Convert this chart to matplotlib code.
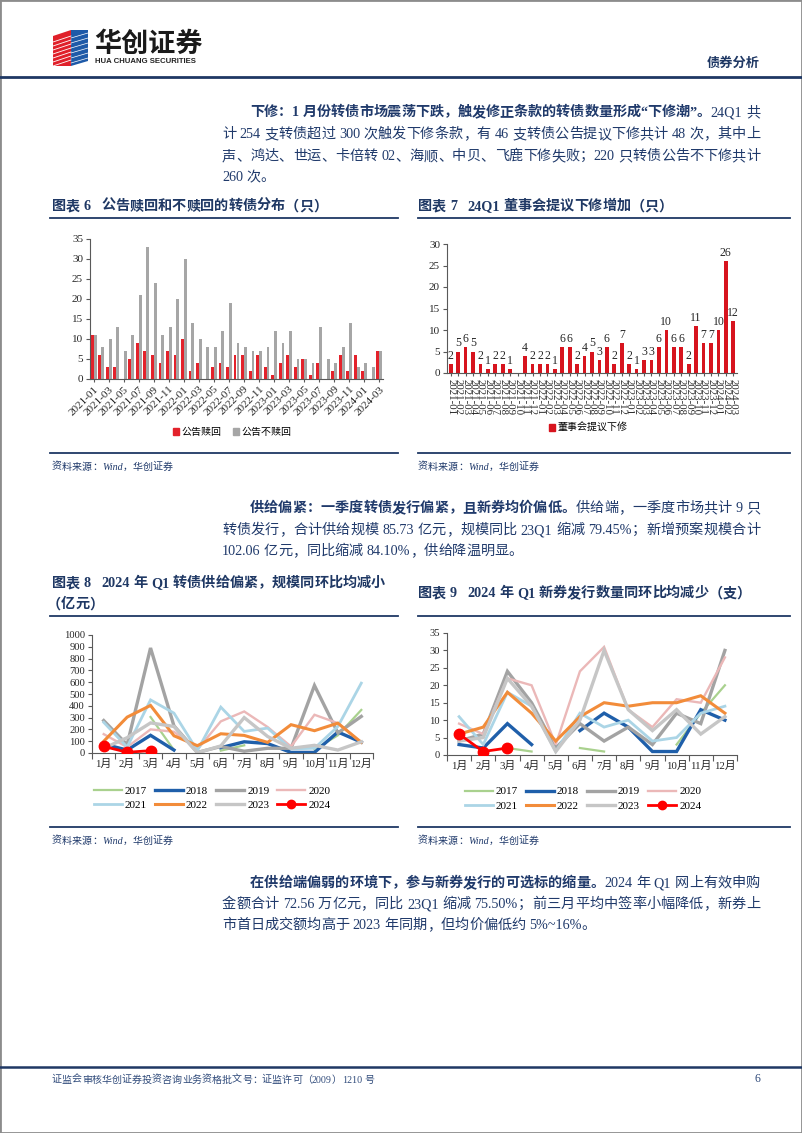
import numpy as np
import matplotlib
matplotlib.use('Agg')
import matplotlib.pyplot as plt
from matplotlib.patches import Rectangle, Polygon
from matplotlib.lines import Line2D
from matplotlib.font_manager import FontProperties

nan = np.nan

# ---------------- data ----------------
months = [f'{y}-{m:02d}' for y in range(2021, 2025) for m in range(1, 13)][:39]

redeem = [11, 6, 3, 3, 0, 5, 9, 7, 6, 4, 7, 6,
          10, 2, 4, 0, 3, 4, 3, 6, 6, 2, 6, 3,
          1, 4, 6, 3, 5, 1, 4, 0, 2, 6, 2, 6,
          2, 0, 7]
no_redeem = [11, 8, 10, 13, 7, 11, 21, 33, 24, 11, 13, 20,
             30, 14, 10, 8, 8, 12, 19, 9, 8, 7, 7, 8,
             12, 9, 12, 5, 5, 4, 13, 5, 4, 8, 14, 3,
             4, 3, 7]
board_reset = [2, 5, 6, 5, 2, 1, 2, 2, 1, 0, 4, 2,
               2, 2, 1, 6, 6, 2, 4, 5, 3, 6, 2, 7,
               2, 1, 3, 3, 6, 10, 6, 6, 2, 11, 7, 7,
               10, 26, 12]

month_cn = ['1月', '2月', '3月', '4月', '5月', '6月', '7月', '8月', '9月', '10月', '11月', '12月']
years = ['2017', '2018', '2019', '2020', '2021', '2022', '2023', '2024']

supply_2017 = [nan, nan, 305, 25, nan, 20, 65, nan, nan, 30, 150, 365]
supply_2018 = [75, 25, 150, 25, nan, 45, 95, 80, 5, 5, 178, 92]
supply_2019 = [275, 70, 890, 230, 5, 55, 15, 40, 40, 572, 170, 310]
supply_2020 = [160, 50, 200, 180, 30, 268, 352, 220, 55, 324, 253, 90]
supply_2021 = [260, 50, 450, 338, 20, 389, 183, 211, 35, 40, 225, 592]
supply_2022 = [99, 304, 403, 146, 62, 163, 149, 90, 240, 189, 253, 90]
supply_2023 = [40, 130, 255, 225, 2, 60, 300, 140, 40, 65, 25, 95]
supply_2024 = [56, 6, 20]

count_2017 = [nan, nan, 2, 1, nan, 2, 1, nan, nan, 3, 12, 20]
count_2018 = [3, 2, 9, 3, nan, 7, 12, 8, 1, 1, 13, 10]
count_2019 = [4, 6, 24, 15, 2, 9, 4, 8, 3, 12, 9, 30]
count_2020 = [9, 6, 22, 20, 3, 24, 31, 13, 8, 16, 15, 28]
count_2021 = [11, 3, 18, 14, 1, 12, 8, 10, 4, 5, 12, 14]
count_2022 = [6, 8, 18, 12, 4, 11, 15, 14, 15, 15, 17, 12]
count_2023 = [4, 5, 22, 14, 1, 10, 30, 13, 7, 13, 6, 11]
count_2024 = [6, 1, 2]

supply = [supply_2017, supply_2018, supply_2019, supply_2020,
          supply_2021, supply_2022, supply_2023, supply_2024]
counts = [count_2017, count_2018, count_2019, count_2020,
          count_2021, count_2022, count_2023, count_2024]

# ---------------- style ----------------
year_colors = ['#A9D18E', '#1F5FAA', '#A3A3A3', '#EBB8B8', '#ABD5E6', '#F28C3A', '#C6C6C6', '#FF0000']
year_lw = [1.6, 2.4, 2.4, 1.7, 2.0, 2.2, 2.4, 2.0]

W, H = 802, 1133
fig = plt.figure(figsize=(W / 100, H / 100), dpi=100)
fig.patch.set_facecolor('white')


def X(x):
    return x / W


def Y(y):
    return 1 - y / H


def add_ax(l, t, r, b):
    return fig.add_axes([X(l), Y(b), (r - l) / W, (b - t) / H])


NAVY = '#1F3864'
BODY = '#203A6B'
SER = ['Liberation Serif', 'Noto Sans CJK SC']
SANS = ['Noto Sans CJK SC', 'DejaVu Sans']


def hline(x0, x1, y, lw=1.3, color=NAVY):
    fig.add_artist(Line2D([X(x0), X(x1)], [Y(y), Y(y)], transform=fig.transFigure,
                          color=color, lw=lw))


# page frame
fig.add_artist(Rectangle((0, 0), 1, 1, transform=fig.transFigure, fill=False,
                         ec='#8c8c8c', lw=2))

# ---------------- logo / header ----------------
def P(pts):
    return [(X(a), Y(b)) for a, b in pts]


fig.add_artist(Polygon(P([(53, 36), (71, 30), (71, 66), (53, 66)]), closed=True,
                       transform=fig.transFigure, fc='#E0202A', ec='none'))
fig.add_artist(Polygon(P([(71, 30), (88, 30), (88, 61), (71, 66)]), closed=True,
                       transform=fig.transFigure, fc='#1E5AA8', ec='none'))
for k in range(7):
    y0 = 42 + 4 * k
    fig.add_artist(Line2D([X(53), X(71)], [Y(y0), Y(y0 - 6)], transform=fig.transFigure,
                          color='white', lw=0.6))
for k in range(6):
    y0 = 38 + 5 * k
    fig.add_artist(Line2D([X(71), X(88)], [Y(y0), Y(y0 - 5)], transform=fig.transFigure,
                          color='white', lw=0.5))

fig.text(X(94), Y(44), '华创证券', fontsize=19.5, fontweight='bold', family=SANS,
         color='#1a1a1a', va='center', ha='left')
fig.text(X(95), Y(61.5), 'HUA CHUANG SECURITIES', fontsize=5.6, fontweight='bold',
         family='Liberation Sans', color='#222222', va='center', ha='left')
fig.text(X(760), Y(63), '债券分析', fontsize=9.5, fontweight='bold', family=SANS,
         color=NAVY, va='center', ha='right')
hline(0, 802, 77, lw=2.0)

# ---------------- body text helper ----------------
renderer = fig.canvas.get_renderer()
_cache = {}


def text_width(s, fp):
    key = (s, fp.get_weight(), fp.get_size(), fp.get_style())
    if key in _cache:
        return _cache[key]
    t1 = fig.text(0, 0, '中' + s + '中', fontproperties=fp)
    t2 = fig.text(0, 0, '中中', fontproperties=fp)
    w = t1.get_window_extent(renderer).width - t2.get_window_extent(renderer).width
    t1.remove()
    t2.remove()
    _cache[key] = w
    return w


def tokens_of(s):
    toks, buf = [], ''
    for ch in s:
        if ch == ' ':
            if buf:
                toks.append(buf)
                buf = ''
            toks.append(' ')
        elif ord(ch) < 128:
            buf += ch
        else:
            if buf:
                toks.append(buf)
                buf = ''
            toks.append(ch)
    if buf:
        toks.append(buf)
    return toks


def draw_line(segments, x0, y, x1=None, size=10.2, color=BODY, style='normal'):
    items = []
    for s, bold in segments:
        fp = FontProperties(family=SER, size=size, weight='bold' if bold else 'normal',
                            style=style)
        for tk in tokens_of(s):
            if tk == ' ':
                items.append((tk, fp, size * 100 / 72 * 0.25))
            else:
                items.append((tk, fp, text_width(tk, fp)))
    total = sum(w for _, _, w in items)
    extra = 0
    if x1 is not None and len(items) > 1:
        extra = (x1 - x0 - total) / (len(items) - 1)
    x = x0
    base = y + 0.36 * size * 100 / 72
    for tk, fp, w in items:
        if tk != ' ':
            fig.text(X(x), Y(base), tk, fontproperties=fp, color=color,
                     va='baseline', ha='left')
        x += w + extra


R = 760
# paragraph 1
draw_line([('下修：1 月份转债市场震荡下跌，触发修正条款的转债数量形成“下修潮”。', True),
           ('24Q1 共', False)], 250, 111, R)
draw_line([('计 254 支转债超过 300 次触发下修条款，有 46 支转债公告提议下修共计 48 次，其中上', False)], 222, 133, R)
draw_line([('声、鸿达、世运、卡倍转 02、海顺、中贝、飞鹿下修失败；220 只转债公告不下修共计', False)], 222, 155, R)
draw_line([('260 次。', False)], 222, 176)

# paragraph 2
draw_line([('供给偏紧：一季度转债发行偏紧，且新券均价偏低。', True),
           ('供给端，一季度市场共计 9 只', False)], 250, 507, R)
draw_line([('转债发行，合计供给规模 85.73 亿元，规模同比 23Q1 缩减 79.45%；新增预案规模合计', False)], 222, 529, R)
draw_line([('102.06 亿元，同比缩减 84.10%，供给降温明显。', False)], 222, 550)

# paragraph 3
draw_line([('在供给端偏弱的环境下，参与新券发行的可选标的缩量。', True),
           ('2024 年 Q1 网上有效申购', False)], 250, 882, R)
draw_line([('金额合计 72.56 万亿元，同比 23Q1 缩减 75.50%；前三月平均中签率小幅降低，新券上', False)], 222, 903, R)
draw_line([('市首日成交额均高于 2023 年同期，但均价偏低约 5%~16%。', False)], 222, 924)

# chart titles
TS = 10.2
draw_line([('图表 6   公告赎回和不赎回的转债分布（只）', True)], 52, 205, size=TS, color=NAVY)
draw_line([('图表 7   24Q1 董事会提议下修增加（只）', True)], 418, 205, size=TS, color=NAVY)
draw_line([('图表 8   2024 年 Q1 转债供给偏紧，规模同环比均减小', True)], 52, 582, size=TS, color=NAVY)
draw_line([('（亿元）', True)], 47, 603, size=TS, color=NAVY)
draw_line([('图表 9   2024 年 Q1 新券发行数量同环比均减少（支）', True)], 418, 592, size=TS, color=NAVY)

hline(50, 398, 218)
hline(418, 790, 218)
hline(50, 398, 616)
hline(418, 790, 616)
hline(50, 398, 453)
hline(418, 790, 453)
hline(50, 398, 827)
hline(418, 790, 827)

for (sx, sy) in [(52, 466), (418, 466), (52, 840), (418, 840)]:
    draw_line([('资料来源：Wind，华创证券', False)], sx, sy, size=7.2, color=BODY, style='italic')

# footer
hline(0, 802, 1067, lw=1.8)
draw_line([('证监会审核华创证券投资咨询业务资格批文号：证监许可（2009）1210 号', False)], 52, 1079,
          size=7.2, color='#2F4A7A')
fig.text(X(760), Y(1079), '6', fontsize=8.5, family='Liberation Serif', color='#2F4A7A',
         ha='right', va='center')


# ---------------- charts ----------------
def style(ax, fs=7.5):
    ax.set_facecolor('none')
    for s in ('top', 'right'):
        ax.spines[s].set_visible(False)
    for s in ('left', 'bottom'):
        ax.spines[s].set_color('#595959')
        ax.spines[s].set_linewidth(0.8)
    ax.tick_params(axis='both', which='both', colors='#595959', labelcolor='#262626',
                   labelsize=fs, length=3, width=0.8, pad=2)
    for lb in ax.get_yticklabels():
        lb.set_fontfamily('Liberation Serif')


x6 = np.arange(len(months))

# chart 6
ax6 = add_ax(90, 239, 383, 379)
ax6.bar(x6 - 0.19, redeem, width=0.38, color='#E3222B', label='公告赎回')
ax6.bar(x6 + 0.19, no_redeem, width=0.38, color='#A6A6A6', label='公告不赎回')
ax6.set_xlim(-0.5, len(months) - 0.5)
ax6.set_ylim(0, 35)
ax6.set_yticks(range(0, 36, 5))
ax6.set_xticks(x6[::2])
ax6.set_xticklabels(months[::2], rotation=45, ha='right', rotation_mode='anchor',
                    fontsize=8, family='Liberation Serif')
style(ax6, 8)
ax6.tick_params(axis='x', length=2, labelsize=8)
fig.legend(handles=[Rectangle((0, 0), 1, 1, color='#E3222B'), Rectangle((0, 0), 1, 1, color='#A6A6A6')],
           labels=['公告赎回', '公告不赎回'], loc='center', bbox_to_anchor=(X(232), Y(432)),
           ncol=2, frameon=False, prop=FontProperties(family=SANS, size=7.2),
           handlelength=0.6, handleheight=0.6, handletextpad=0.2, columnspacing=1.2)

# chart 7
ax7 = add_ax(447, 244, 737, 373)
ax7.bar(x6, board_reset, width=0.5, color='#D7141E')
for xi, v in zip(x6, board_reset):
    if v > 0:
        ax7.text(xi, v + 0.5, str(v), ha='center', va='bottom', fontsize=8.5,
                 family='Liberation Serif', color='#262626')
ax7.set_xlim(-0.5, len(months) - 0.5)
ax7.set_ylim(0, 30)
ax7.set_yticks(range(0, 31, 5))
ax7.set_xticks(x6)
ax7.set_xticklabels(months, rotation=270, fontsize=7.8, family='Liberation Serif')
style(ax7, 8)
ax7.tick_params(axis='x', length=2, labelsize=7.8)
fig.legend(handles=[Rectangle((0, 0), 1, 1, color='#D7141E')], labels=['董事会提议下修'],
           loc='center', bbox_to_anchor=(X(588), Y(428)), frameon=False,
           prop=FontProperties(family=SANS, size=7.2),
           handlelength=0.6, handleheight=0.6, handletextpad=0.2)


def line_chart(ax, data, ymax, ystep, legend_xy):
    handles = []
    for yr, vals, col, lw in zip(years, data, year_colors, year_lw):
        xs = np.arange(len(vals))
        if yr == '2024':
            h, = ax.plot(xs, vals, color=col, lw=lw, marker='o', ms=7.5, zorder=5)
        else:
            h, = ax.plot(xs, vals, color=col, lw=lw, solid_joinstyle='miter')
        handles.append(h)
    ax.set_xlim(-0.5, 11.5)
    ax.set_ylim(0, ymax)
    ax.set_yticks(np.arange(0, ymax + 1, ystep))
    ax.set_xticks(np.arange(-0.5, 12, 1))
    ax.set_xticklabels([])
    ax.set_xticks(np.arange(12), minor=True)
    ax.set_xticklabels(month_cn, minor=True, fontfamily=SER, fontsize=7.8)
    style(ax, 7.6)
    ax.tick_params(axis='x', which='major', length=4)
    ax.tick_params(axis='x', which='minor', length=0, pad=4, labelsize=7.8)
    order = [0, 4, 1, 5, 2, 6, 3, 7]
    fig.legend(handles=[handles[i] for i in order], labels=[years[i] for i in order],
               loc='center', bbox_to_anchor=(X(legend_xy[0]), Y(legend_xy[1])), ncol=4,
               frameon=False, prop=FontProperties(family='Liberation Serif', size=8),
               handlelength=2.5, handletextpad=0.3, columnspacing=0.7, labelspacing=0.45,
               markerscale=0.8)


ax8 = add_ax(92, 635, 373, 753)
line_chart(ax8, supply, 1000, 100, (212, 798))

ax9 = add_ax(447, 633, 737, 755)
line_chart(ax9, counts, 35, 5, (583, 799))

fig.savefig('out.png', dpi=100, facecolor='white')
